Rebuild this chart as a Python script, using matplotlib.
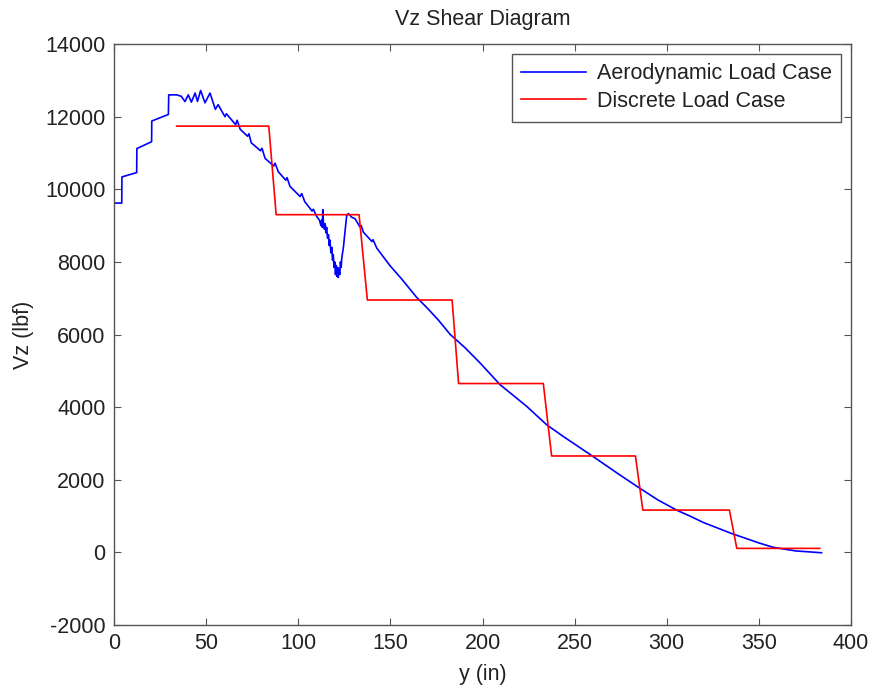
import matplotlib
matplotlib.use("Agg")
import matplotlib.pyplot as plt

plt.rcParams['font.family'] = ['Liberation Sans', 'DejaVu Sans']
plt.rcParams['axes.unicode_minus'] = False

# Aerodynamic load case (span position y in inches, shear Vz in lbf)
aero_y = [0, 4.2, 4.3, 12.3, 12.4, 20.4, 20.5, 29.5, 29.7, 34, 36.5, 38.5, 40.3, 42, 44, 45.3, 47,
          49.4, 52.1, 55.0, 56.5, 60.2, 61.0, 66.0, 66.8, 68.5, 72.5, 73.2, 74.5, 79.5, 80.3, 82.0,
          86.7, 87.4, 89.2, 93.2, 93.9, 95.5, 101.0, 101.9, 103.5, 107.5, 108.2, 110.0, 111.5,
          112.3, 112.7, 113.1, 113.3, 113.7, 114.2, 114.6, 115.0, 115.4, 115.9, 116.4, 116.8,
          117.2, 117.7, 118.2, 118.6, 119.0, 119.4, 119.8, 120.2, 120.6, 121.0, 121.4, 121.7,
          122.1, 122.5, 122.9, 123.3, 123.6, 124.5, 125.4, 126.3, 127.2, 129.0, 130.8, 133.5,
          134.2, 135.3, 140.0, 140.6, 142.6, 147.5, 149.8, 156.1, 164.3, 169.7, 176, 182.4, 190.5,
          198.6, 209.5, 224, 234.8, 243.9, 260.1, 274.6, 285.5, 295, 305.4, 312.6, 320, 335.2,
          350, 357.7, 370, 384]
aero_vz = [9620, 9620, 10340, 10460, 11120, 11310, 11880, 12060, 12600, 12600, 12560, 12415, 12600,
           12400, 12650, 12420, 12720, 12380, 12650, 12200, 12330, 12000, 12080, 11780, 11900,
           11650, 11460, 11530, 11280, 11060, 11130, 10850, 10640, 10720, 10480, 10250, 10320,
           10080, 9800, 9880, 9660, 9400, 9450, 9250, 9150, 9000, 9150, 8950, 9440, 9030, 8900,
           9050, 8800, 8950, 8650, 8750, 8450, 8600, 8250, 8400, 8050, 8200, 7850, 8000, 7650,
           7900, 7600, 7850, 7570, 7800, 7650, 8000, 7850, 8100, 8400, 8850, 9280, 9330, 9230,
           9190, 8960, 9000, 8820, 8560, 8610, 8380, 8050, 7895, 7530, 7020, 6745, 6400, 6005,
           5636, 5220, 4620, 4020, 3515, 3190, 2637, 2130, 1762, 1450, 1162, 1000, 820, 520,
           260, 140, 40, -10]

# Discrete load case
disc_y = [34, 84, 88, 133, 137.5, 183.5, 187, 233, 237.5, 283, 287, 334, 338, 383]
disc_vz = [11740, 11740, 9300, 9300, 6950, 6950, 4650, 4650, 2655, 2655, 1165, 1165, 110, 110]

TXT = '#222222'
FS = 15.5

fig = plt.figure(figsize=(8.75, 6.9), dpi=100)
ax = fig.add_axes([0.1303, 0.0942, 0.8423, 0.842])

ax.plot(aero_y, aero_vz, color='#0000ff', lw=1.2, label='Aerodynamic Load Case')
ax.plot(disc_y, disc_vz, color='#ff0000', lw=1.2, label='Discrete Load Case')

ax.set_xlim(0, 400)
ax.set_ylim(-2000, 14000)
ax.set_xticks(range(0, 401, 50))
ax.set_yticks(range(-2000, 14001, 2000))
ax.tick_params(direction='in', top=True, right=True, labelsize=FS, length=5,
               color='#555555', labelcolor=TXT, pad=6)
for s in ax.spines.values():
    s.set_color('#555555')
    s.set_linewidth(1.0)

ax.set_title('Vz Shear Diagram', fontsize=FS, pad=14, color=TXT)
ax.set_xlabel('y (in)', fontsize=FS, labelpad=7, color=TXT)
ax.set_ylabel('Vz (lbf)', fontsize=FS, labelpad=8, color=TXT)

leg = ax.legend(loc='upper right', fontsize=FS, fancybox=False, framealpha=1,
                edgecolor='#555555', borderaxespad=0.45, handlelength=3.0,
                borderpad=0.45, labelspacing=0.3, handletextpad=0.5)
leg.get_frame().set_linewidth(1.0)
for t in leg.get_texts():
    t.set_color(TXT)

fig.savefig('out.png', dpi=100)
